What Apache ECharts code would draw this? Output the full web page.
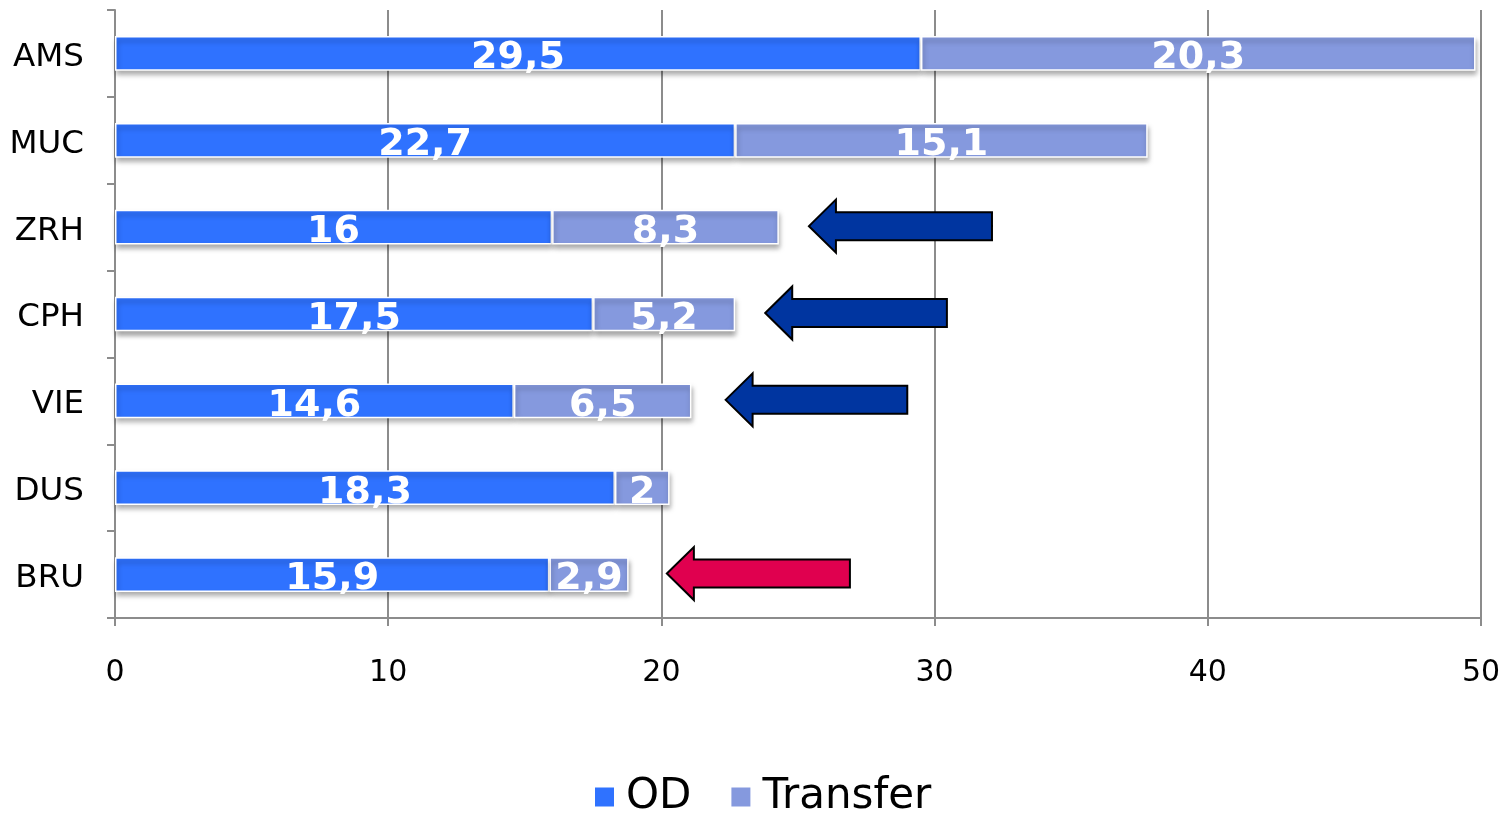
<!DOCTYPE html>
<html>
<head>
<meta charset="utf-8">
<script src="https://cdn.jsdelivr.net/npm/echarts@6/dist/echarts.min.js"></script>
<style>html,body{margin:0;padding:0;background:#fff}#c{width:1511px;height:814px}</style>
</head>
<body>
<div id="c"></div>
<script>
const categories = ['AMS', 'MUC', 'ZRH', 'CPH', 'VIE', 'DUS', 'BRU'];
const odValues = [29.5, 22.7, 16, 17.5, 14.6, 18.3, 15.9];
const transferValues = [20.3, 15.1, 8.3, 5.2, 6.5, 2, 2.9];
const xTicks = [0, 10, 20, 30, 40, 50];
// arrow annotations: [tip x value, tail x value, category]
const arrowsBlue = [[25.4, 32.1, 'ZRH'], [23.8, 30.45, 'CPH'], [22.35, 29.0, 'VIE']];
const arrowsRed = [[20.2, 26.9, 'BRU']];

const FONT = '"DejaVu Sans", Verdana, sans-serif';
const fmt = p => String(p.value).replace('.', ',');

function arrowRender(params, api) {
  const tip = api.coord([api.value(0), api.value(2)]);
  const tail = api.coord([api.value(1), api.value(2)]);
  const cy = tip[1] - 1;
  const headLen = 27, headH = 26.5, shaftH = 14;
  const x0 = tip[0], x1 = tail[0], xb = x0 + headLen;
  return {
    type: 'polygon',
    shape: { points: [[x0, cy], [xb, cy - headH], [xb, cy - shaftH], [x1, cy - shaftH], [x1, cy + shaftH], [xb, cy + shaftH], [xb, cy + headH]] },
    style: { fill: api.visual('color'), stroke: '#000', lineWidth: 2, lineJoin: 'miter' }
  };
}

const barLabel = { show: true, position: 'inside', formatter: fmt, color: '#fff',
  fontFamily: FONT, fontWeight: 'bold', fontSize: 38, offset: [0, 5] };
const barShadow = { borderColor: '#fff', borderWidth: 1.5,
  shadowColor: 'rgba(0,0,0,0.35)', shadowBlur: 5, shadowOffsetY: 4, shadowOffsetX: 1 };

const chart = echarts.init(document.getElementById('c'));
chart.setOption({
  animation: false,
  grid: { left: 115, right: 30, top: 10, bottom: 196, containLabel: false },
  legend: {
    data: ['OD', 'Transfer'],
    left: 588, top: 771,
    itemWidth: 21, itemHeight: 21, itemGap: 38,
    icon: 'rect',
    textStyle: { fontFamily: FONT, fontSize: 42, color: '#000', padding: [0, 0, 0, 6] }
  },
  xAxis: {
    type: 'value', min: 0, max: 50, interval: 10,
    axisLine: { show: true, lineStyle: { color: '#8c8c8c', width: 2 } },
    axisTick: { show: true, length: 8, lineStyle: { color: '#8c8c8c', width: 2 } },
    splitLine: { show: true, lineStyle: { color: '#8c8c8c', width: 2 } },
    axisLabel: { fontFamily: FONT, fontSize: 30, color: '#000', margin: 40,
      formatter: v => xTicks.includes(v) ? String(v) : '' }
  },
  yAxis: {
    type: 'category', data: categories, inverse: true,
    axisLine: { show: true, lineStyle: { color: '#8c8c8c', width: 2 } },
    axisTick: { show: true, length: 8, lineStyle: { color: '#8c8c8c', width: 2 } },
    axisLabel: { color: '#000', margin: 31,
      formatter: v => '{a|' + v + '}',
      rich: { a: { fontFamily: FONT, fontSize: 32.5, color: '#000', padding: [8, 0, 0, 0] } } }
  },
  series: [
    {
      name: 'OD', type: 'bar', stack: 'total', data: odValues, barWidth: '40%',
      itemStyle: Object.assign({ color: '#2F72FF' }, barShadow),
      label: barLabel, z: 3
    },
    {
      name: 'Transfer', type: 'bar', stack: 'total', data: transferValues, barWidth: '40%',
      itemStyle: Object.assign({ color: '#8599DE' }, barShadow),
      label: barLabel, z: 3
    },
    {
      name: 'arrowsBlue', type: 'custom', renderItem: arrowRender,
      encode: { x: [0, 1], y: 2 }, data: arrowsBlue, itemStyle: { color: '#0035A0' }, z: 5,
      silent: true
    },
    {
      name: 'arrowsRed', type: 'custom', renderItem: arrowRender,
      encode: { x: [0, 1], y: 2 }, data: arrowsRed, itemStyle: { color: '#E0004F' }, z: 5,
      silent: true
    }
  ]
});
</script>
</body>
</html>
